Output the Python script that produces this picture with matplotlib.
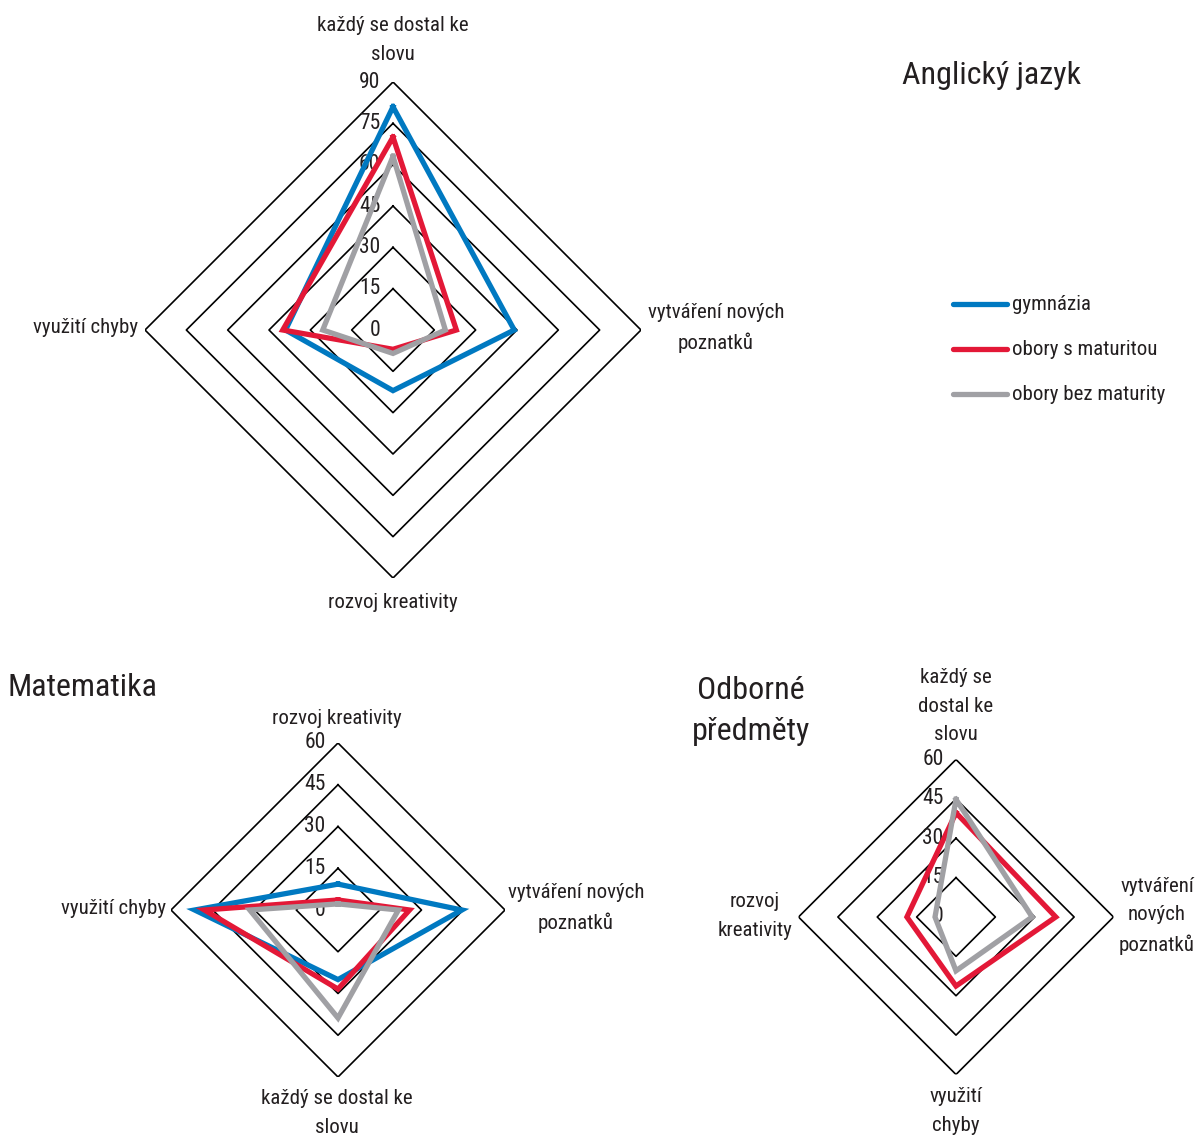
import numpy as np
import matplotlib
matplotlib.use('Agg')
import matplotlib.pyplot as plt

plt.rcParams['font.family'] = ['Roboto Condensed', 'Liberation Sans']

W, H = 1195, 1138

series_names = ['gymnázia', 'obory s maturitou', 'obory bez maturity']
series_colors = ['#0079C1', '#E31837', '#A0A0A4']

# Anglický jazyk (clockwise from top)
aj_axes = ['každý se dostal ke\nslovu', 'vytváření nových\npoznatků', 'rozvoj kreativity', 'využití chyby']
aj_gym = [81, 44, 22, 39]
aj_mat = [70, 23, 7, 40]
aj_bez = [63, 19, 8.5, 25.5]
aj_ticks = [0, 15, 30, 45, 60, 75, 90]

# Matematika
ma_axes = ['rozvoj kreativity', 'vytváření nových\npoznatků', 'každý se dostal ke\nslovu', 'využití chyby']
ma_gym = [9.3, 44.5, 25, 51.5]
ma_mat = [3.6, 25.7, 28.4, 48]
ma_bez = [2.2, 21.7, 38.8, 31.7]
ma_ticks = [0, 15, 30, 45, 60]

# Odborné předměty (no gymnázia)
od_axes = ['každý se\ndostal ke\nslovu', 'vytváření\nnových\npoznatků', 'využití\nchyby', 'rozvoj\nkreativity']
od_mat = [39.7, 38, 26.3, 18.7]
od_bez = [44.8, 29, 20.5, 8]
od_ticks = [0, 15, 30, 45, 60]


def px(x, y):
    return x / W, 1 - y / H


def radar(rect, ticks, series, colors):
    ax = fig.add_axes(rect, projection='polar')
    ax.set_theta_zero_location('N')
    ax.set_theta_direction(-1)
    theta = np.linspace(0, 2 * np.pi, 5)
    for r in ticks[1:]:
        ax.plot(theta, [r] * 5, color='black', lw=1.2, zorder=1)
    for vals, c in zip(series, colors):
        ax.plot(theta, list(vals) + [vals[0]], color=c, lw=3.8, zorder=3,
                solid_joinstyle='miter')
    for r in ticks:
        ax.annotate(str(r), xy=(0, r), xytext=(-9, 0), textcoords='offset points',
                    ha='right', va='center', fontsize=15.5, color='#231f20', zorder=2)
    ax.set_ylim(0, ticks[-1])
    ax.grid(False)
    ax.set_xticks([])
    ax.set_yticks([])
    ax.spines['polar'].set_visible(False)
    ax.patch.set_alpha(0)
    return ax


def rect_for(cx, cy, rad):
    return [(cx - rad) / W, (H - cy - rad) / H, 2 * rad / W, 2 * rad / H]


fig = plt.figure(figsize=(W / 100, H / 100), dpi=100)

radar(rect_for(393, 330, 248), aj_ticks, [aj_gym, aj_mat, aj_bez], series_colors)
radar(rect_for(338, 910, 167), ma_ticks, [ma_gym, ma_mat, ma_bez], series_colors)
radar(rect_for(956, 917, 157.5), od_ticks, [od_mat, od_bez], series_colors[1:])

tk = dict(fontsize=15, color='#231f20', ha='center', va='center', linespacing=1.65)

# axis labels - Anglický jazyk
fig.text(*px(393, 40), aj_axes[0], **tk)
fig.text(*px(716, 328), aj_axes[1], **tk)
fig.text(*px(393, 602), aj_axes[2], **tk)
fig.text(*px(86, 328), aj_axes[3], **tk)

# Matematika
fig.text(*px(337, 718), ma_axes[0], **tk)
fig.text(*px(576, 908), ma_axes[1], **tk)
fig.text(*px(337, 1113), ma_axes[2], **tk)
fig.text(*px(114, 909), ma_axes[3], **tk)

# Odborné předměty
fig.text(*px(956, 706), od_axes[0], **tk)
fig.text(*px(1157, 916), od_axes[1], **tk)
fig.text(*px(956, 1111), od_axes[2], **tk)
fig.text(*px(755, 916), od_axes[3], **tk)

# titles
fig.text(*px(992, 76), 'Anglický jazyk', fontsize=23, color='#231f20', ha='center', va='center')
fig.text(*px(8, 687), 'Matematika', fontsize=23, color='#231f20', ha='left', va='center')
fig.text(*px(751, 711), 'Odborné\npředměty', fontsize=23, color='#231f20',
         ha='center', va='center', linespacing=1.55)

# legend
for i, (name, c) in enumerate(zip(series_names, series_colors)):
    y = 304 + 45 * i
    fig.add_artist(plt.Line2D([953 / W, 1007 / W], [1 - y / H, 1 - y / H], color=c, lw=3.8,
                              solid_capstyle='round'))
    fig.text(*px(1012, y), name, fontsize=15, color='#231f20', ha='left', va='center')

fig.savefig('out.png', dpi=100, facecolor='white')
